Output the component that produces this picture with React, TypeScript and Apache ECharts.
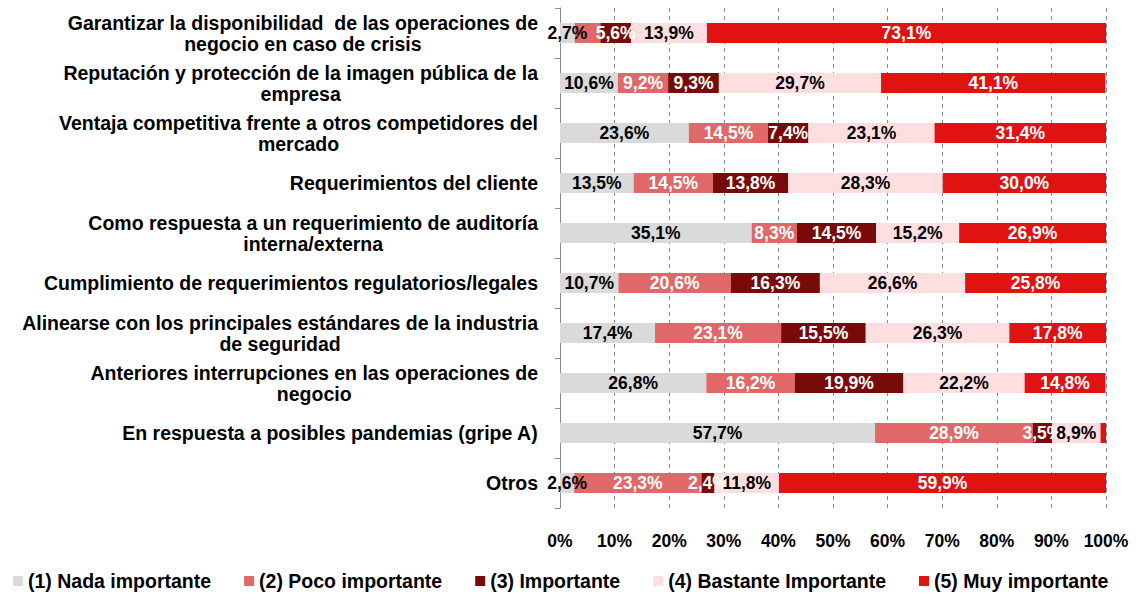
import React, { useEffect, useRef } from "react";
import * as echarts from "echarts";

const categories = [
  "Garantizar la disponibilidad  de las operaciones de\nnegocio en caso de crisis",
  "Reputación y protección de la imagen pública de la\nempresa",
  "Ventaja competitiva frente a otros competidores del\nmercado",
  "Requerimientos del cliente",
  "Como respuesta a un requerimiento de auditoría\ninterna/externa",
  "Cumplimiento de requerimientos regulatorios/legales",
  "Alinearse con los principales estándares de la industria\nde seguridad",
  "Anteriores interrupciones en las operaciones de\nnegocio",
  "En respuesta a posibles pandemias (gripe A)",
  "Otros",
];

const seriesNames = [
  "(1) Nada importante",
  "(2) Poco importante",
  "(3) Importante",
  "(4) Bastante Importante",
  "(5) Muy importante",
];

const nada = [2.7, 10.6, 23.6, 13.5, 35.1, 10.7, 17.4, 26.8, 57.7, 2.6];
const poco = [4.7, 9.2, 14.5, 14.5, 8.3, 20.6, 23.1, 16.2, 28.9, 23.3];
const importante = [5.6, 9.3, 7.4, 13.8, 14.5, 16.3, 15.5, 19.9, 3.5, 2.4];
const bastante = [13.9, 29.7, 23.1, 28.3, 15.2, 26.6, 26.3, 22.2, 8.9, 11.8];
const muy = [73.1, 41.1, 31.4, 30.0, 26.9, 25.8, 17.8, 14.8, 1.0, 59.9];

const seriesValues = [nada, poco, importante, bastante, muy];
const colors = ["#DADADA", "#E06868", "#780A0A", "#FFDEE0", "#E01212"];
const labelColors = ["#000", "#fff", "#fff", "#000", "#fff"];
// [seriesIndex, categoryIndex] whose labels are not shown
const hiddenLabels = [
  [1, 0],
  [4, 8],
];

const xTicks = [0, 10, 20, 30, 40, 50, 60, 70, 80, 90, 100];

const FONT = "'Liberation Sans', Arial, sans-serif";

export default function App() {
  const ref = useRef<HTMLDivElement>(null);
  useEffect(() => {
    if (!ref.current) return;
    const chart = echarts.init(ref.current, undefined, { renderer: "svg" });
    const series = seriesValues.map((vals, si) => ({
      name: seriesNames[si],
      type: "bar",
      stack: "total",
      barWidth: 20,
      itemStyle: { color: colors[si] },
      label: {
        show: true,
        position: "inside",
        color: labelColors[si],
        fontFamily: FONT,
        fontWeight: "bold",
        fontSize: 17.5,
        formatter: (p: any) => p.value.toFixed(1).replace(".", ",") + "%",
      },
      data: vals.map((v, ci) => {
        const hide = hiddenLabels.some((h) => h[0] === si && h[1] === ci);
        return hide ? { value: v, label: { show: false } } : v;
      }),
    }));
    chart.setOption({
      animation: false,
      textStyle: { fontFamily: FONT },
      grid: { left: 560, right: 32, top: 8, bottom: 85, containLabel: false },
      legend: {
        top: 571,
        left: 13,
        padding: 0,
        itemWidth: 10,
        itemHeight: 10,
        itemGap: 33,
        icon: "rect",
        textStyle: {
          fontFamily: FONT,
          fontWeight: "bold",
          fontSize: 19.5,
          color: "#000",
        },
        data: seriesNames,
      },
      xAxis: {
        type: "value",
        min: xTicks[0],
        max: xTicks[xTicks.length - 1],
        interval: 10,
        axisLine: { show: false },
        axisTick: { show: false },
        splitLine: {
          show: true,
          lineStyle: { color: "#8a8a8a", type: [4, 4], width: 1 },
        },
        axisLabel: {
          formatter: "{value}%",
          margin: 24,
          color: "#000",
          fontFamily: FONT,
          fontWeight: "bold",
          fontSize: 17.5,
        },
      },
      yAxis: {
        type: "category",
        inverse: true,
        data: categories,
        axisLine: { show: true, lineStyle: { color: "#8a8a8a", width: 1 } },
        axisTick: { show: true, length: 5, inside: false, lineStyle: { color: "#8a8a8a" } },
        axisLabel: {
          margin: 22,
          color: "#000",
          fontFamily: FONT,
          fontWeight: "bold",
          fontSize: 19.5,
          lineHeight: 21,
          align: "right",
          formatter: (v: string) =>
            v
              .split("\n")
              .map((l) => "{c|" + l + "}")
              .join("\n"),
          rich: {
            c: {
              align: "center",
              fontFamily: FONT,
              fontWeight: "bold",
              fontSize: 19.5,
              lineHeight: 21,
              color: "#000",
            },
          },
        },
      },
      series,
    });
    return () => chart.dispose();
  }, []);
  return (
    <div
      ref={ref}
      style={{ position: "fixed", left: 0, top: 0, width: 1138, height: 593, background: "#fff" }}
    />
  );
}
